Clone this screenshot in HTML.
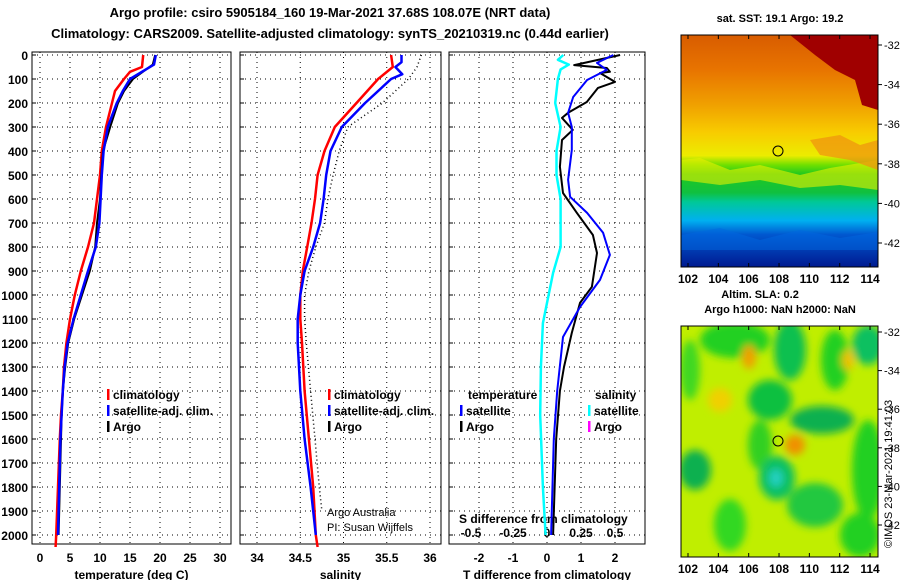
<!DOCTYPE html>
<html><head><meta charset="utf-8"><style>
body{margin:0;background:#fff;}
svg{display:block;font-family:"Liberation Sans",sans-serif;font-weight:bold;}
</style></head><body>
<svg id="fig" width="900" height="580" viewBox="0 0 900 580">
<defs>
<linearGradient id="sst" x1="0" y1="0" x2="0" y2="1">
<stop offset="0" stop-color="#d85c00"/><stop offset="0.15" stop-color="#e87400"/>
<stop offset="0.3" stop-color="#f0a000"/><stop offset="0.42" stop-color="#f8cc00"/>
<stop offset="0.52" stop-color="#ecec00"/><stop offset="0.56" stop-color="#70e000"/>
<stop offset="0.6" stop-color="#20c820"/><stop offset="0.68" stop-color="#10c040"/>
<stop offset="0.72" stop-color="#00c898"/><stop offset="0.8" stop-color="#00b0f0"/>
<stop offset="0.86" stop-color="#0058d0"/><stop offset="1" stop-color="#001a90"/>
</linearGradient>
<filter id="blur"><feGaussianBlur stdDeviation="4"/></filter>
<clipPath id="c1"><rect x="681" y="35" width="197" height="232"/></clipPath>
<clipPath id="c2"><rect x="681" y="326" width="197" height="231"/></clipPath>
</defs>
<text x="330" y="17" text-anchor="middle" font-size="13">Argo profile: csiro 5905184_160 19-Mar-2021 37.68S 108.07E (NRT data)</text>
<text x="330" y="38" text-anchor="middle" font-size="13">Climatology: CARS2009. Satellite-adjusted climatology: synTS_20210319.nc (0.44d earlier)</text>

<g id="plots"></g>

<!-- SST map -->
<g clip-path="url(#c1)">
<rect x="681" y="35" width="197" height="232" fill="url(#sst)"/>
<polygon points="790,35 878,35 878,110 862,105 855,80 835,70 815,55" fill="#a00000"/>
<polygon points="681,160 700,158 730,170 760,165 800,175 830,168 878,160 878,190 840,185 800,188 760,180 720,185 681,180" fill="#e8f000" opacity="0.6"/>
<polygon points="681,235 720,228 760,240 800,230 840,238 878,232 878,250 681,250" fill="#0068e0" opacity="0.5"/>
<polygon points="810,140 840,135 860,145 878,140 878,170 850,160 820,155" fill="#f09010" opacity="0.7"/>
</g>
<rect x="681" y="35" width="197" height="232" fill="none" stroke="#000"/>
<circle cx="778" cy="151" r="5" fill="none" stroke="#000"/>
<text x="780" y="22" text-anchor="middle" font-size="11">sat. SST: 19.1 Argo: 19.2</text>

<!-- SLA map -->
<g clip-path="url(#c2)">
<rect x="681" y="326" width="197" height="231" fill="#c0ee00"/>
<g filter="url(#blur)">
<ellipse cx="735" cy="340" rx="35" ry="18" fill="#20d020"/>
<ellipse cx="790" cy="350" rx="16" ry="30" fill="#10c050"/>
<ellipse cx="835" cy="360" rx="14" ry="30" fill="#20d020"/>
<ellipse cx="868" cy="345" rx="16" ry="20" fill="#10c060"/>
<ellipse cx="690" cy="370" rx="10" ry="30" fill="#40d820"/>
<ellipse cx="770" cy="400" rx="22" ry="20" fill="#10c040"/>
<ellipse cx="822" cy="420" rx="32" ry="14" fill="#10b050"/>
<ellipse cx="760" cy="445" rx="12" ry="25" fill="#30d020"/>
<ellipse cx="777" cy="478" rx="18" ry="22" fill="#10c060"/>
<ellipse cx="776" cy="478" rx="7" ry="9" fill="#20d0c0"/>
<ellipse cx="695" cy="470" rx="16" ry="20" fill="#10b050"/>
<ellipse cx="815" cy="505" rx="28" ry="22" fill="#20c840"/>
<ellipse cx="868" cy="470" rx="16" ry="50" fill="#20d020"/>
<ellipse cx="730" cy="525" rx="16" ry="26" fill="#30d820"/>
<ellipse cx="860" cy="535" rx="20" ry="22" fill="#20d020"/>
<ellipse cx="749" cy="357" rx="7" ry="12" fill="#f0a000"/>
<ellipse cx="795" cy="445" rx="10" ry="10" fill="#f09000"/>
<ellipse cx="720" cy="400" rx="12" ry="12" fill="#f0d000"/>
<ellipse cx="848" cy="360" rx="6" ry="10" fill="#f0c000"/>
</g>
</g>
<rect x="681" y="326" width="197" height="231" fill="none" stroke="#000"/>
<circle cx="778" cy="441" r="5" fill="none" stroke="#000"/>
<text x="760" y="298" text-anchor="middle" font-size="11">Altim. SLA: 0.2</text>
<text x="780" y="313" text-anchor="middle" font-size="11">Argo h1000: NaN h2000: NaN</text>
<text transform="translate(892,548) rotate(-90)" font-size="11" font-weight="normal">©IMOS 23-Mar-2021 19:41:03</text>
<g id="maps"></g>
</svg>
<script>
const NS="http://www.w3.org/2000/svg";
const depthTicks=[0,100,200,300,400,500,600,700,800,900,1000,1100,1200,1300,1400,1500,1600,1700,1800,1900,2000];
const tempTicks=[0,5,10,15,20,25,30];
const salTicks=[34,34.5,35,35.5,36];
const tdTicks=[-2,-1,0,1,2];
const sdTicks=[-0.5,-0.25,0,0.25,0.5];
const sdTickLabels=["-0.5","-0.25","0","0.25","0.5"];
const lonTicks=[102,104,106,108,110,112,114];
const latTicks=[-32,-34,-36,-38,-40,-42];

const tClimDepth=[0,50,70,100,150,200,300,400,500,600,700,800,900,1000,1100,1200,1300,1400,1500,1600,1800,2000,2050];
const tClim=[17.2,17.0,15,14,12.5,12,11,10.3,10,9.5,9,8,6.8,5.8,5,4.4,4,3.8,3.5,3.3,3,2.7,2.6];
const tSatDepth=[0,40,100,150,200,300,400,500,600,700,800,900,1000,1100,1200,1300,1400,1500,1600,1800,2000];
const tSat=[19.3,19,15,13.8,12.8,11.3,10.6,10.3,10.1,9.9,9.3,8,6.8,5.6,4.6,4.1,3.8,3.6,3.4,3.2,3.0];
const tArgoDepth=[0,40,100,150,200,300,400,500,600,700,800,900,1000,1100,1200,1300,1400,1500,1600,1800,2000];
const tArgo=[19.2,18.8,15.5,14,13,11.7,10.5,10.2,10,9.5,9.2,8.3,7,5.7,4.7,4.2,3.8,3.6,3.5,3.3,3.1];

const sClimDepth=[0,50,100,200,300,400,500,600,700,800,900,1000,1100,1200,1400,1600,1800,2000,2050];
const sClim=[35.55,35.57,35.4,35.15,34.9,34.78,34.7,34.67,34.63,34.58,34.53,34.5,34.5,34.52,34.55,34.6,34.65,34.68,34.7];
const sSatDepth=[0,30,50,80,100,200,300,400,500,600,700,800,900,1000,1100,1200,1400,1600,1800,2000];
const sSat=[35.67,35.67,35.6,35.68,35.55,35.25,34.98,34.85,34.8,34.77,34.73,34.65,34.55,34.5,34.47,34.47,34.5,34.55,34.62,34.68];
const sArgoDepth=[0,50,100,200,300,400,500,600,700,800,900,1000,1100,1200,1400,1600,1800,1900];
const sArgo=[35.9,35.85,35.75,35.45,35.05,34.95,34.88,34.82,34.78,34.68,34.6,34.55,34.55,34.57,34.62,34.67,34.72,34.75];

const dArgoDepth=[0,42,54,70,75,112,137,196,241,262,312,354,466,575,658,750,825,966,1033,1158,1300,1400,1600,2000];
const dArgoT=[2.15,0.8,1.76,1.85,1.56,2.0,1.5,1.17,0.62,0.44,0.76,0.44,0.38,0.47,0.88,1.35,1.47,1.32,0.97,0.73,0.5,0.38,0.27,0.18];
const dSatDepth=[0,33,62,104,175,241,300,396,520,591,658,741,833,937,1050,1175,1400,1600,2000];
const dSatT=[1.95,1.47,1.76,1.18,0.77,0.62,0.73,0.73,0.62,0.68,1.18,1.65,1.85,1.56,0.97,0.47,0.3,0.2,0.12];
const dSatSDepth=[0,20,40,60,100,200,300,400,500,600,700,800,908,1117,1300,1500,1800,2000];
const dSatS=[0.12,0.08,0.16,0.1,0.08,0.06,0.1,0.07,0.07,0.1,0.1,0.1,0.045,-0.03,-0.045,-0.05,-0.03,-0.01];

const y=d=>55+d*0.24;
const yTop=52,yBot=544;
const g=document.getElementById('plots');
function el(tag,attrs,parent){const e=document.createElementNS(NS,tag);for(const k in attrs)e.setAttribute(k,attrs[k]);(parent||g).appendChild(e);return e;}
function txt(x,yy,s,attrs,parent){const e=el('text',Object.assign({x:x,y:yy},attrs||{}),parent);e.textContent=s;return e;}

function panel(name,x0,x1,xs,ticks,labels,showDepthLabels,xtitle){
  const grp=el('g',{});
  
  
  depthTicks.forEach(d=>{
    const l=el('line',{x1:x0,x2:x1,y1:y(d),y2:y(d),stroke:'#000','stroke-dasharray':'1,4','stroke-width':1},grp);
    
    
    el('line',{x1:x0,x2:x0+4,y1:y(d),y2:y(d),stroke:'#000'},grp);
    if(showDepthLabels){const t=txt(28,y(d)+5,String(d),{'text-anchor':'end','font-size':12},grp);
      
      }
  });
  ticks.forEach((v,i)=>{
    const l=el('line',{x1:xs(v),x2:xs(v),y1:yTop,y2:yBot,stroke:'#000','stroke-dasharray':'1,4'},grp);
    
    
    const t=txt(xs(v),562,labels[i],{'text-anchor':'middle','font-size':12},grp);
    
    
  });
  const f=el('rect',{x:x0,y:yTop,width:x1-x0,height:yBot-yTop,fill:'none',stroke:'#000'},grp);
  
  
  const t=txt((x0+x1)/2,579,xtitle,{'text-anchor':'middle','font-size':12},grp);
  
  
  return grp;
}
function line(grp,name,ds,vs,xs,color,w,dash){
  const pts=ds.map((d,i)=>xs(vs[i]).toFixed(1)+','+y(d).toFixed(1)).join(' ');
  const p=el('polyline',{points:pts,fill:'none',stroke:color,'stroke-width':w,'stroke-linejoin':'round'},grp);
  if(dash)p.setAttribute('stroke-dasharray',dash);
  
  
}
function legend(grp,x,yy,color,label,name){
  el('rect',{x:x,y:yy-10,width:2.5,height:11,fill:color},grp);
  const t=txt(x+6,yy,label,{'font-size':12},grp);
  
  
}

const xT=v=>40+v*6;
const p1=panel('temperature',32,231,xT,tempTicks,tempTicks.map(String),true,'temperature (deg C)');
line(p1,'temperature-climatology-line',tClimDepth,tClim,xT,'#f00',2.5);
line(p1,'temperature-argo-line',tArgoDepth,tArgo,xT,'#000',2);
line(p1,'temperature-satellite-line',tSatDepth,tSat,xT,'#00f',2.5);
legend(p1,107,399,'#f00','climatology','legend-climatology');
legend(p1,107,415,'#00f','satellite-adj. clim.','legend-satellite-adj');
legend(p1,107,431,'#000','Argo','legend-argo');

const xS=v=>257+(v-34)*86.5;
const p2=panel('salinity',240,441,xS,salTicks,salTicks.map(String),false,'salinity');
line(p2,'salinity-argo-line',sArgoDepth,sArgo,xS,'#000',1.5,'1,3');
line(p2,'salinity-climatology-line',sClimDepth,sClim,xS,'#f00',2.5);
line(p2,'salinity-satellite-line',sSatDepth,sSat,xS,'#00f',2.5);
legend(p2,328,399,'#f00','climatology','legend-climatology');
legend(p2,328,415,'#00f','satellite-adj. clim.','legend-satellite-adj');
legend(p2,328,431,'#000','Argo','legend-argo');
txt(327,516,'Argo Australia',{'font-size':11,'font-weight':'normal'},p2);
txt(327,531,'PI: Susan Wijffels',{'font-size':11,'font-weight':'normal'},p2);

const xD=v=>547+v*34;
const xSD=v=>547+v*136;
const p3=panel('difference',449,645,xD,tdTicks,tdTicks.map(String),false,'T difference from climatology');
sdTicks.forEach((v,i)=>{const t=txt(xSD(v)-(i==0?8:0),537,sdTickLabels[i],{'text-anchor':'middle','font-size':12},p3);
  
  });
txt(459,523,'S difference from climatology',{'font-size':12},p3);
line(p3,'salinity-satellite-difference-line',dSatSDepth,dSatS,xSD,'#0ff',2.5);
line(p3,'temperature-argo-difference-line',dArgoDepth,dArgoT,xD,'#000',2);
line(p3,'temperature-satellite-difference-line',dSatDepth,dSatT,xD,'#00f',2);
txt(468,399,'temperature',{'font-size':12},p3);
txt(595,399,'salinity',{'font-size':12},p3);
legend(p3,460,415,'#00f','satellite','legend-t-satellite');
legend(p3,460,431,'#000','Argo','legend-t-argo');
legend(p3,588,415,'#0ff','satellite','legend-s-satellite');
legend(p3,588,431,'#f0f','Argo','legend-s-argo');

// map axes
const m=document.getElementById('maps');
const lonX=v=>688+(v-102)*15.17;
[[35,267],[326,557]].forEach((b,k)=>{
  const top=b[0],bot=b[1];
  const latY=k==0?(v=>45+(-32-v)*19.8):(v=>332+(-32-v)*19.3);
  lonTicks.forEach(v=>{
    el('line',{x1:lonX(v),x2:lonX(v),y1:top,y2:top+4,stroke:'#000'},m);
    el('line',{x1:lonX(v),x2:lonX(v),y1:bot,y2:bot-4,stroke:'#000'},m);
    const t=txt(lonX(v),bot+16,String(v),{'text-anchor':'middle','font-size':12},m);
    
    
  });
  latTicks.forEach(v=>{
    el('line',{x1:878,x2:882,y1:latY(v),y2:latY(v),stroke:'#000'},m);
    const t=txt(884,latY(v)+4,String(v),{'font-size':11,'font-weight':'normal'},m);
    
    
  });
});
</script>
</body></html>
